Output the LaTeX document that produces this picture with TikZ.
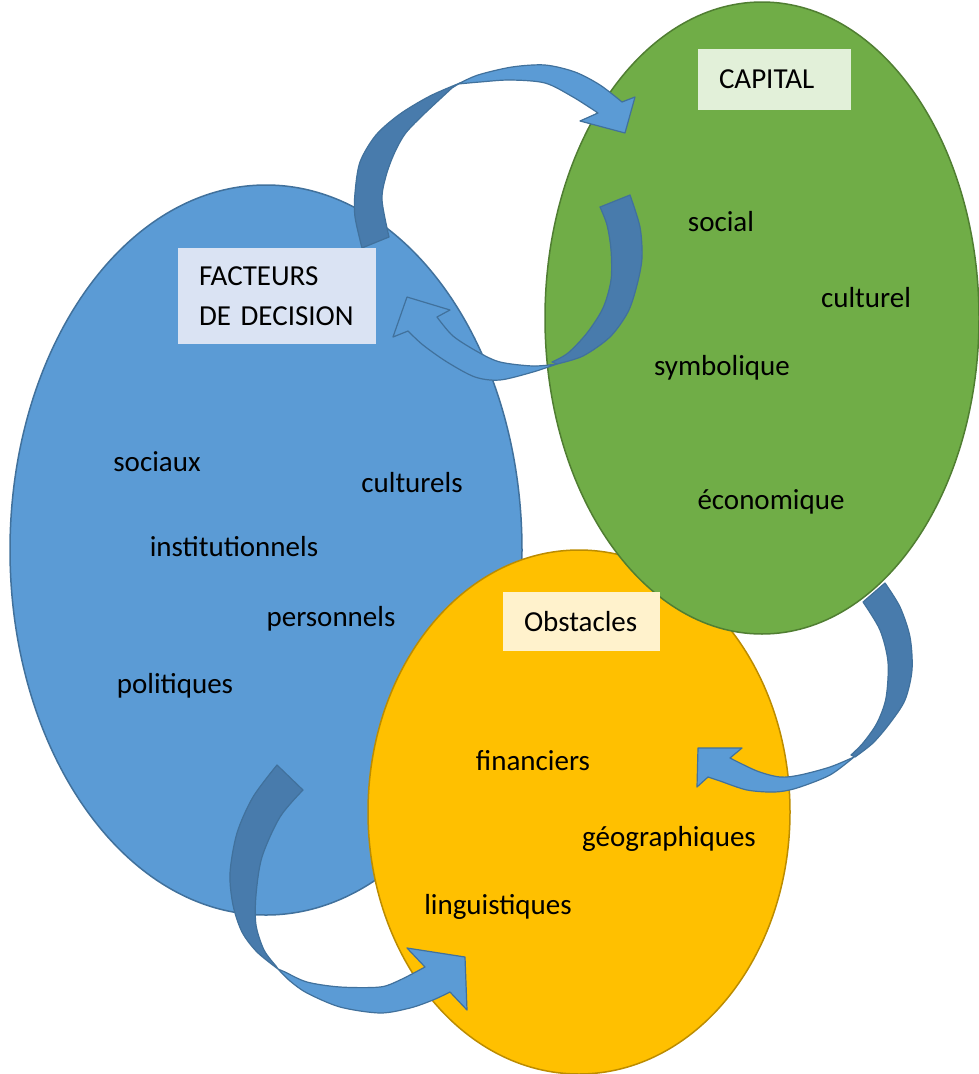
\documentclass[tikz,border=0pt]{standalone}
\usepackage{fontspec}
\setmainfont{Carlito}
\definecolor{bleu}{HTML}{5B9BD5}
\definecolor{bleutrait}{HTML}{41719C}
\definecolor{bleufonce}{HTML}{487BAC}
\definecolor{vert}{HTML}{70AD47}
\definecolor{verttrait}{HTML}{507E32}
\definecolor{jaune}{HTML}{FFC000}
\definecolor{jaunetrait}{HTML}{BC8C00}
\definecolor{bleuclair}{HTML}{DAE3F3}
\definecolor{vertclair}{HTML}{E2F0D9}
\definecolor{jauneclair}{HTML}{FFF2CC}
\tikzset{
	word/.style={font=\fontsize{29}{40}\selectfont, inner sep=0pt},
	tag/.style={word, draw=none, align=left, inner xsep=21pt, inner ysep=0pt},
	bande/.style={fill=bleu, draw=bleutrait, line width=1.2pt, line join=round},
	dos/.style={fill=bleufonce, draw=bleutrait, line width=1.2pt, line join=round}
}

\begin{document}
\begin{tikzpicture}[x=1pt, y=-1pt]
			\useasboundingbox (0,0) rectangle (979,1074);

			% Ellipses
			\filldraw[fill=bleu, draw=bleutrait, line width=1.5pt] (266,550) ellipse [x radius=256, y radius=365];
			\filldraw[fill=jaune, draw=jaunetrait, line width=1.5pt] (579,812) ellipse [x radius=211, y radius=262];
			\filldraw[fill=vert, draw=verttrait, line width=1.5pt] (762,318) ellipse [x radius=217, y radius=316];

			% Curved arrows
			% facteurs -> capital
			\filldraw[dos] plot[smooth] coordinates {(362,248) (355,217) (355,193) (360,162) (376,135) (400,114) (430,96) (460,83)}
				-- plot[smooth] coordinates {(452,88) (422,116) (405,134) (394,154) (386,176) (382,200) (389,237)} -- cycle;
			\filldraw[bande] plot[smooth] coordinates {(458,84) (478,75) (512,67) (545,65) (575,72) (600,85) (622,102)}
				-- (635,97) -- (625,133) -- (580,121) -- (598,113)
				-- plot[smooth] coordinates {(598,113) (573,97) (545,83) (510,80) (480,82) (458,84)} -- cycle;

			% capital -> facteurs
			\filldraw[dos] plot[smooth] coordinates {(630,195) (640,227) (642,258) (637,285) (628,312) (610,337) (583,356) (557,364)}
				-- plot[smooth] coordinates {(552,362) (568,353) (587,333) (603,308) (611,280) (611,250) (607,225) (600,207)} -- cycle;
			\filldraw[bande] plot[smooth] coordinates {(557,364) (533,372) (500,380) (475,377) (447,362) (423,345) (408,331)}
				-- (393,337) -- (407,297) -- (450,310) -- (437,317)
				-- plot[smooth] coordinates {(437,317) (453,336) (478,352) (500,362) (533,366) (557,364)} -- cycle;

			% capital -> obstacles
			\filldraw[dos] plot[smooth] coordinates {(885,583) (900,607) (910,637) (912,670) (905,700) (890,723) (873,743) (855,757)}
				-- plot[smooth] coordinates {(851,755) (863,743) (877,723) (886,698) (888,662) (880,630) (863,602)} -- cycle;
			\filldraw[bande] plot[smooth] coordinates {(854,757) (830,775) (797,788) (775,792) (747,790) (720,781) (708,777)}
				-- (697,787) -- (698,748) -- (742,748) -- (730,758)
				-- plot[smooth] coordinates {(730,758) (757,771) (780,777) (800,775) (830,767) (854,757)} -- cycle;

			% facteurs -> obstacles
			\filldraw[dos] plot[smooth] coordinates {(277,765) (253,797) (237,833) (230,873) (233,905) (242,932) (257,952) (278,969)}
				-- plot[smooth] coordinates {(276,966) (264,950) (256,925) (256,895) (262,857) (280,817) (303,790)} -- cycle;
			\filldraw[bande] plot[smooth] coordinates {(278,969) (290,981) (307,993) (340,1007) (380,1013) (410,1008) (433,1000) (450,992)}
				-- (467,1010) -- (465,957) -- (407,948) -- (425,967)
				-- plot[smooth] coordinates {(425,967) (400,980) (380,987) (340,987) (307,982) (285,972) (278,969)} -- cycle;

			% Titles
			\node[tag, fill=bleuclair, text width=156pt, minimum height=96pt] (facteurs) at (277,296) {FACTEURS\\DE DECISION};
			\node[tag, fill=vertclair, text width=111pt, minimum height=61pt] (capital) at (774.5,79.5) {CAPITAL};
			\node[tag, fill=jauneclair, text width=115pt, minimum height=59pt] (obstacles) at (581.5,621.5) {Obstacles};

			% Capital
			\node[word] (social) at (721,222) {social};
			\node[word] (culturel) at (866,298) {culturel};
			\node[word] (symbolique) at (722,368) {symbolique};
			\node[word] (economique) at (771,502) {économique};

			% Facteurs de decision
			\node[word] (sociaux) at (157,462) {sociaux};
			\node[word] (culturels) at (412,483) {culturels};
			\node[word] (institutionnels) at (234,547) {institutionnels};
			\node[word] (personnels) at (331,619) {personnels};
			\node[word] (politiques) at (175,686) {politiques};

			% Obstacles
			\node[word] (financiers) at (533,761) {financiers};
			\node[word] (geographiques) at (669,839) {géographiques};
			\node[word] (linguistiques) at (498,907) {linguistiques};
		\end{tikzpicture}
\end{document}
